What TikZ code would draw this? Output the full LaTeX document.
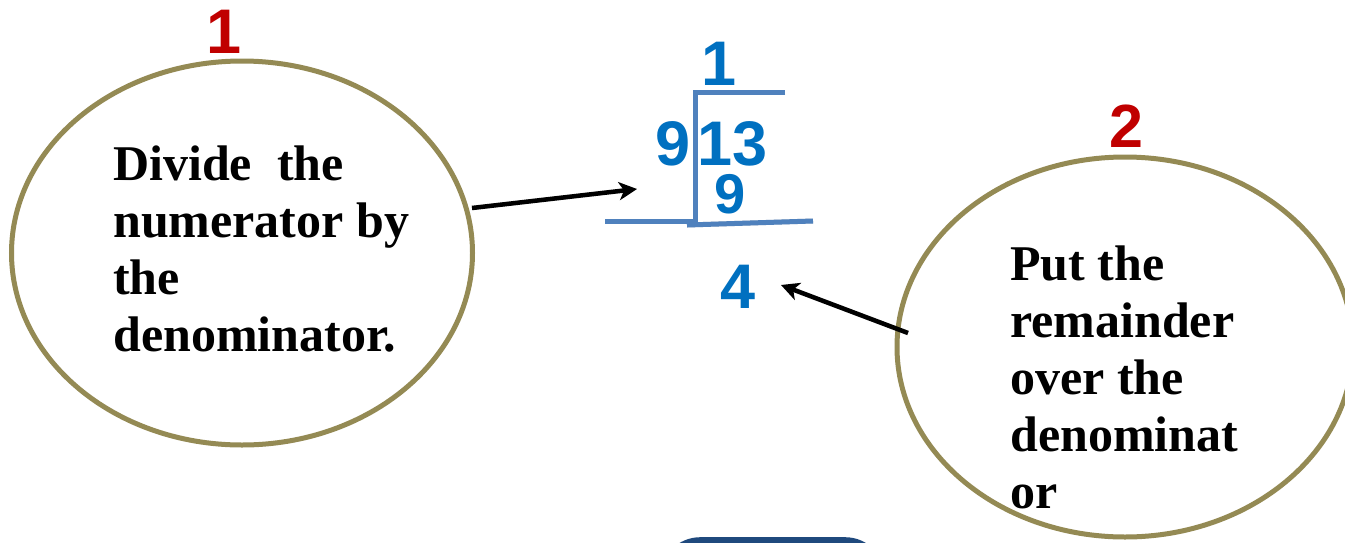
\documentclass[tikz,border=0pt]{standalone}
\usepackage{fontspec}
\usetikzlibrary{arrows.meta,shapes.geometric}
\newfontfamily\numfont{Liberation Sans}
\newfontfamily\bubfont{Liberation Serif}
\definecolor{olive}{HTML}{948A54}
\definecolor{numred}{HTML}{C00000}
\definecolor{numblue}{HTML}{0070C0}
\definecolor{divblue}{HTML}{4F81BD}
\definecolor{darkblue}{HTML}{1F497D}
\tikzset{
  bubble/.style={ellipse,draw=olive,line width=5pt,inner sep=0pt,fill=white},
  bubbletext/.style={anchor=base west,inner sep=0pt,font=\bubfont\bfseries\fontsize{50}{57}\selectfont},
  rednum/.style={anchor=base,inner sep=0pt,text depth=0pt,text=numred,font=\numfont\bfseries\fontsize{63}{63}\selectfont},
  bluenum/.style={anchor=base,inner sep=0pt,text depth=0pt,text=numblue,font=\numfont\bfseries\fontsize{63}{63}\selectfont},
  divline/.style={draw=divblue,line width=5pt},
  divshadow/.style={draw=black,opacity=0.18,line width=5pt},
  pointer/.style={draw=black,line width=4.5pt,-{Stealth[length=18pt,width=18pt,inset=5pt]}},
  pointershadow/.style={draw=black,opacity=0.15,line width=4.5pt,-{Stealth[length=18pt,width=18pt,inset=5pt]}},
}
\begin{document}
\begin{tikzpicture}[x=1pt,y=-1pt]
\useasboundingbox (0,0) rectangle (1345,542);
% bottom partial button
\node[draw=none,fill=darkblue,rounded corners=40pt,minimum width=225pt,minimum height=90pt,anchor=north west,inner sep=0pt] (btn) at (660,537) {};
% bubbles
\node[bubble,minimum width=461pt,minimum height=384pt] (e1) at (242,253) {};
\node[bubble,minimum width=456pt,minimum height=380pt] (e2) at (1125,347) {};
\node[bubbletext] (t1) at (113,180) {\parbox[t]{330pt}{\raggedright\baselineskip=57pt Divide\ \ the\\numerator by\\the\\denominator.}};
\node[bubbletext] (t2) at (1010,280) {\parbox[t]{330pt}{\raggedright\baselineskip=57pt Put the\\remainder\\over the\\denominat\\or}};
% step numbers
\node[rednum] (n1) at (224,53) {1};
\node[rednum,font=\numfont\bfseries\fontsize{61}{61}\selectfont] (n2) at (1126,147) {2};
% long division
\node[bluenum] (q) at (719,85) {1};
\node[bluenum] (dv) at (673,165) {9};
\node[bluenum] (dd) at (733,165) {13};
\node[bluenum,text height=30pt,font=\numfont\bfseries\fontsize{56}{56}\selectfont] (sub) at (730,213) {9};
\node[bluenum] (rem) at (738,308) {4};
\coordinate (vt) at (695,92);
\coordinate (vb) at (695,223);
\coordinate (tr) at (785,92);
\coordinate (bl) at (605,221);
\coordinate (bm) at (695,221);
\coordinate (bs) at (687,225);
\coordinate (br) at (813,221);
\begin{scope}[shift={(2,3)}]
\draw[divshadow] (tr) -- (vt) -- (vb);
\draw[divshadow] (bl) -- (bm);
\draw[divshadow] (bs) -- (br);
\end{scope}
\draw[divline] (tr) -- (vt) -- (vb);
\draw[divline] (bl) -- (bm);
\draw[divline] (bs) -- (br);
% arrows
\coordinate (a1s) at (472,208);
\coordinate (a1e) at (637,189);
\coordinate (a2s) at (908,333);
\coordinate (a2e) at (781,285);
\begin{scope}[shift={(2,3)}]
\draw[pointershadow] (a1s) -- (a1e);
\draw[pointershadow] (a2s) -- (a2e);
\end{scope}
\draw[pointer] (a1s) -- (a1e);
\draw[pointer] (a2s) -- (a2e);
\end{tikzpicture}
\end{document}
